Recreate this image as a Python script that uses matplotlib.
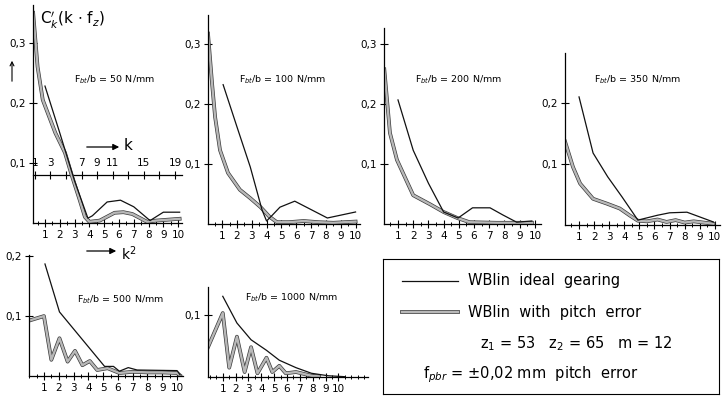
import numpy as np
import matplotlib.pyplot as plt
from matplotlib import patheffects
from matplotlib.ticker import MultipleLocator

W, H = 722, 397

# curves (x = k^2 axis, y = C'_k)
ideal_k2_50 = [1.0, 2.0, 3.0, 3.9, 4.2, 5.2, 6.1, 7.0, 8.1, 9.0, 10.1]
ideal_50 = [0.228, 0.15, 0.07, 0.008, 0.012, 0.035, 0.038, 0.027, 0.004, 0.018, 0.018]
pitch_k2_50 = [0.2, 0.5, 0.85, 1.7, 2.35, 2.8, 3.35, 3.7, 4.0, 4.7, 5.7, 6.3, 6.9, 7.9, 8.5, 10.1]
pitch_50 = [0.35, 0.26, 0.205, 0.15, 0.117, 0.08, 0.038, 0.01, 0.002, 0.004, 0.017, 0.018, 0.015, 0.002, 0.004, 0.007]

ideal_k2_100 = [1.07, 2.0, 2.9, 3.7, 4.0, 4.4, 4.9, 5.9, 8.1, 10.0]
ideal_100 = [0.232, 0.162, 0.095, 0.023, 0.005, 0.015, 0.028, 0.038, 0.01, 0.02]
pitch_k2_100 = [0.05, 0.32, 0.53, 0.86, 1.4, 2.2, 2.9, 3.6, 4.2, 4.7, 5.5, 6.5, 7.5, 8.5, 10.0]
pitch_100 = [0.317, 0.235, 0.178, 0.123, 0.085, 0.057, 0.043, 0.028, 0.012, 0.003, 0.003, 0.005, 0.003, 0.002, 0.004]

ideal_k2_200 = [1.0, 2.0, 3.0, 4.0, 4.95, 5.9, 7.05, 7.9, 8.8, 9.8]
ideal_200 = [0.207, 0.123, 0.068, 0.02, 0.01, 0.027, 0.027, 0.015, 0.003, 0.005]
pitch_k2_200 = [0.1, 0.47, 0.93, 2.0, 3.1, 4.0, 4.9, 5.7, 7.5, 9.8]
pitch_200 = [0.258, 0.152, 0.107, 0.048, 0.033, 0.02, 0.01, 0.003, 0.002, 0.002]

ideal_k2_350 = [1.0, 1.93, 2.9, 3.85, 4.9, 6.2, 7.0, 8.15, 9.9]
ideal_350 = [0.21, 0.118, 0.079, 0.046, 0.008, 0.016, 0.02, 0.021, 0.005]
pitch_k2_350 = [0.07, 0.6, 1.07, 1.93, 2.85, 3.7, 4.4, 4.9, 5.5, 6.2, 6.8, 7.4, 8.0, 8.6, 9.9]
pitch_350 = [0.137, 0.095, 0.068, 0.043, 0.035, 0.027, 0.015, 0.007, 0.006, 0.009, 0.005, 0.008, 0.004, 0.006, 0.002]

ideal_k2_500 = [1.07, 2.05, 5.1, 5.7, 6.1, 6.7, 7.3, 10.0, 10.2]
ideal_500 = [0.187, 0.107, 0.016, 0.016, 0.008, 0.014, 0.01, 0.009, 0.002]
pitch_k2_500 = [0.07, 1.0, 1.5, 2.05, 2.6, 3.1, 3.6, 4.1, 4.6, 5.3, 6.1, 7.0, 8.0, 9.0, 10.0, 10.2]
pitch_500 = [0.093, 0.1, 0.027, 0.063, 0.024, 0.042, 0.018, 0.025, 0.01, 0.013, 0.005, 0.007, 0.006, 0.006, 0.005, 0.001]

ideal_k2_1000 = [1.0, 2.1, 3.2, 4.4, 5.4, 6.7, 7.9, 9.2, 10.5]
ideal_1000 = [0.13, 0.087, 0.06, 0.043, 0.027, 0.015, 0.006, 0.002, 0.0005]
pitch_k2_1000 = [-0.15, 1.0, 1.5, 2.1, 2.7, 3.2, 3.7, 4.4, 4.85, 5.4, 5.9, 6.7, 7.9, 8.5]
pitch_1000 = [0.048, 0.103, 0.015, 0.065, 0.008, 0.048, 0.006, 0.031, 0.008, 0.018, 0.006, 0.008, 0.002, 0.001]

x_ticks = list(range(1, 11))
k_ticks = [1, 3, 5, 7, 9, 11, 13, 15, 17, 19]
k_labels = ['1', '3', '', '7', '9', '11', '', '15', '', '19']

loads = [50, 100, 200, 350, 500, 1000]


def px(x, y):
    # pixel position in the 722x397 picture -> figure fraction
    return x / W, 1 - y / H


band = [patheffects.Stroke(linewidth=2.7, foreground='#3a3a3a'), patheffects.Normal()]
band_col = '#b8b8b8'

fig = plt.figure(figsize=(W / 100, H / 100), dpi=100)
fig.patch.set_facecolor('white')

# (origin x, right x, zero y, top y) in pixels, xlim, ylim top, y ticks, title centre
panels = [
    ((33, 182, 223, 5), (0.19, 10.26), 0.363, [0.1, 0.2, 0.3], (114, 80)),
    ((208, 360, 224, 15), (0.05, 10.3), 0.348, [0.1, 0.2, 0.3], (283, 80)),
    ((384, 541, 224, 28), (0.08, 10.4), 0.327, [0.1, 0.2, 0.3], (459, 80)),
    ((565, 720, 225, 53), (0.07, 10.34), 0.282, [0.1, 0.2], (638, 80)),
    ((29, 183, 376, 255), (-0.01, 10.4), 0.202, [0.1, 0.2], (121, 300)),
    ((208, 368, 377, 287), (-0.15, 12.3), 0.145, [0.1], (292, 298)),
]
curves = [
    (ideal_k2_50, ideal_50, pitch_k2_50, pitch_50),
    (ideal_k2_100, ideal_100, pitch_k2_100, pitch_100),
    (ideal_k2_200, ideal_200, pitch_k2_200, pitch_200),
    (ideal_k2_350, ideal_350, pitch_k2_350, pitch_350),
    (ideal_k2_500, ideal_500, pitch_k2_500, pitch_500),
    (ideal_k2_1000, ideal_1000, pitch_k2_1000, pitch_1000),
]

axes = []
for (box, xl, ytop, yt, tpos), (ik, iv, pk, pv), load in zip(panels, curves, loads):
    x0, x1, y0, y1 = box
    ax = fig.add_axes([x0 / W, 1 - y0 / H, (x1 - x0) / W, (y0 - y1) / H])
    ax.set_facecolor('none')
    ax.plot(pk, pv, color=band_col, lw=1.7, path_effects=band, solid_joinstyle='round')
    ax.plot(ik, iv, color='#111111', lw=0.9)
    ax.set_xlim(*xl)
    ax.set_ylim(0, ytop)
    ax.spines[['top', 'right']].set_visible(False)
    ax.spines[['left', 'bottom']].set_linewidth(0.9)
    ax.set_xticks(x_ticks)
    ax.set_xticklabels([str(t) for t in x_ticks])
    ax.xaxis.set_minor_locator(MultipleLocator(0.5))
    ax.set_yticks(yt)
    ax.set_yticklabels([('%.1f' % t).replace('.', ',') for t in yt])
    ax.tick_params(direction='inout', length=6, width=0.8, labelsize=7.5, pad=2)
    ax.tick_params(axis='x', which='minor', direction='inout', length=3, width=0.7)
    fig.text(*px(*tpos), r'F$_{bt}$/b = %d N/mm' % load, fontsize=6.8,
             ha='center', va='center')
    axes.append(ax)

# second k scale in the 50 N/mm panel
ax1 = axes[0]
sec = ax1.secondary_xaxis(0.08, functions=(lambda x: 1.9 * x + 0.4, lambda k: (k - 0.4) / 1.9),
                          transform=ax1.transData)
sec.set_xticks(k_ticks)
sec.set_xticklabels(k_labels)
sec.set_alignment('top')
sec.tick_params(direction='inout', length=6, width=0.8, labelsize=7.5, pad=2)
sec.spines['top'].set_linewidth(0.9)

fig.text(*px(40, 20), r"C$_k^{\prime}$(k $\cdot$ f$_z$)", fontsize=11, va='center')
plt.annotate('', xy=px(12, 58), xytext=px(12, 84), xycoords='figure fraction',
             arrowprops=dict(arrowstyle='->', color='black', lw=0.8, mutation_scale=7))

arr = dict(arrowstyle='-|>', color='black', lw=0.9, mutation_scale=9)
fig.text(*px(124, 146), 'k', fontsize=11, va='center')
plt.annotate('', xy=px(122, 147), xytext=px(84, 147), xycoords='figure fraction', arrowprops=arr)
fig.text(*px(121, 254), 'k$^2$', fontsize=10, va='center')
plt.annotate('', xy=px(119, 251), xytext=px(84, 251), xycoords='figure fraction', arrowprops=arr)

# legend block
lg = fig.add_axes([383 / W, 1 - 394 / H, 336 / W, 135 / H])
lg.set_xlim(383, 719)
lg.set_ylim(394, 259)
lg.set_xticks([])
lg.set_yticks([])
for s in lg.spines.values():
    s.set_linewidth(0.8)
lg.plot([402, 458], [281, 281], color='#111111', lw=0.9)
lg.plot([402, 458], [312, 312], color=band_col, lw=1.7, path_effects=band)
lg.text(468, 281, 'WBlin  ideal  gearing', fontsize=10.5, va='center')
lg.text(468, 312, 'WBlin  with  pitch  error', fontsize=10.5, va='center')
lg.text(480, 344, r'z$_1$ = 53   z$_2$ = 65   m = 12', fontsize=10.5, va='center')
lg.text(423, 375, r'f$_{pbr}$ = $\pm$0,02 mm  pitch  error', fontsize=10.5, va='center')

fig.savefig('out.png', dpi=100, facecolor='white')
